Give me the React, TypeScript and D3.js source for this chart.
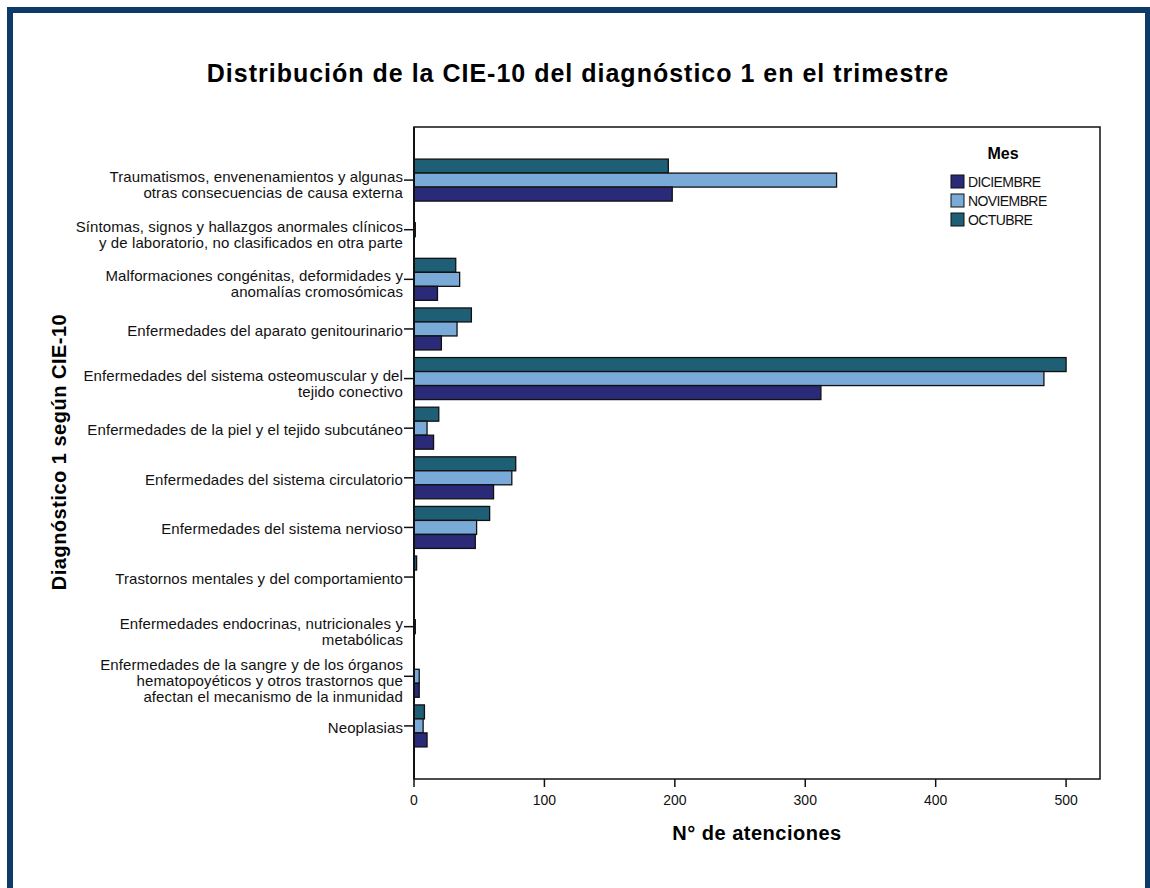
import React from 'react';
import * as d3 from 'd3';

// categories, top to bottom (lines split as in the original labels)
const categories: string[][] = [
  ['Traumatismos, envenenamientos y algunas', 'otras consecuencias de causa externa'],
  ['Síntomas, signos y hallazgos anormales clínicos', 'y de laboratorio, no clasificados en otra parte'],
  ['Malformaciones congénitas, deformidades y', 'anomalías cromosómicas'],
  ['Enfermedades del aparato genitourinario'],
  ['Enfermedades del sistema osteomuscular y del', 'tejido conectivo'],
  ['Enfermedades de la piel y el tejido subcutáneo'],
  ['Enfermedades del sistema circulatorio'],
  ['Enfermedades del sistema nervioso'],
  ['Trastornos mentales y del comportamiento'],
  ['Enfermedades endocrinas, nutricionales y', 'metabólicas'],
  ['Enfermedades de la sangre y de los órganos', 'hematopoyéticos y otros trastornos que', 'afectan el mecanismo de la inmunidad'],
  ['Neoplasias'],
];

const octubre = [195, 0, 32, 44, 500, 19, 78, 58, 2, 0, 0, 8];
const noviembre = [324, 1, 35, 33, 483, 10, 75, 48, 0, 1, 4, 7];
const diciembre = [198, 0, 18, 21, 312, 15, 61, 47, 0, 0, 4, 10];

// drawn top to bottom inside each group
const months = ['OCTUBRE', 'NOVIEMBRE', 'DICIEMBRE'];
const monthValues = [octubre, noviembre, diciembre];
const monthColors = ['#1e5f75', '#7aaad8', '#2a2a78'];

// legend order
const legendOrder = ['DICIEMBRE', 'NOVIEMBRE', 'OCTUBRE'];

const xTicks = [0, 100, 200, 300, 400, 500];

const FONT = 'Liberation Sans, Arial, sans-serif';

export default function App() {
  const plot = { left: 414, right: 1100, top: 127, bottom: 779 };

  const x = d3.scaleLinear().domain([0, 526]).range([plot.left, plot.right]);
  const y = d3.scaleBand<number>()
    .domain(d3.range(categories.length))
    .range([plot.top, plot.bottom])
    .paddingOuter(0.57)
    .paddingInner(0);
  const inner = d3.scaleBand<string>().domain(months).range([-21, 21]);

  const color = d3.scaleOrdinal<string, string>().domain(months).range(monthColors);

  return (
    <svg width={1150} height={888} style={{ position: 'absolute', left: 0, top: 0, background: '#fff' }}>
      {/* outer frame */}
      <rect x={10} y={10} width={1138} height={900} fill="none" stroke="#0c3a69" strokeWidth={6} />

      {/* title */}
      <text x={578} y={82} textAnchor="middle" fontFamily={FONT} fontWeight="bold" fontSize={25} letterSpacing={1}>
        Distribución de la CIE-10 del diagnóstico 1 en el trimestre
      </text>

      {/* plot frame */}
      <rect x={plot.left} y={plot.top} width={plot.right - plot.left} height={plot.bottom - plot.top}
        fill="none" stroke="#111" strokeWidth={1.5} />

      {/* bars */}
      {categories.map((_, i) => {
        const cy = (y(i) as number) + y.bandwidth() / 2;
        return (
          <g key={i}>
            {months.map((m, j) => {
              const v = monthValues[j][i];
              if (!v) return null;
              return (
                <rect key={m} x={x(0)} y={cy + (inner(m) as number)}
                  width={x(v) - x(0)} height={inner.bandwidth()}
                  fill={color(m)} stroke="#111" strokeWidth={1.3} />
              );
            })}
          </g>
        );
      })}

      {/* left axis line */}
      <line x1={plot.left} x2={plot.left} y1={plot.top} y2={plot.bottom} stroke="#111" strokeWidth={2} />

      {/* category labels and ticks */}
      {categories.map((lines, i) => {
        const cy = (y(i) as number) + y.bandwidth() / 2;
        const n = lines.length;
        const first = cy - (n - 1) * 8 + 7 + (n > 1 ? 3 : 0);
        return (
          <g key={i}>
            <line x1={plot.left - 10} x2={plot.left} y1={cy} y2={cy} stroke="#111" strokeWidth={1.5} />
            <text textAnchor="end" fontFamily={FONT} fontSize={15} letterSpacing={0.1} fill="#111">
              {lines.map((l, k) => (
                <tspan key={k} x={plot.left - 11} y={first + k * 16}>{l}</tspan>
              ))}
            </text>
          </g>
        );
      })}

      {/* x axis ticks */}
      {xTicks.map(t => (
        <g key={t}>
          <line x1={x(t)} x2={x(t)} y1={plot.bottom} y2={plot.bottom + 8} stroke="#111" strokeWidth={1.5} />
          <text x={x(t)} y={plot.bottom + 26} textAnchor="middle" fontFamily={FONT} fontSize={14} fill="#111">{t}</text>
        </g>
      ))}

      {/* axis titles */}
      <text x={757} y={840} textAnchor="middle" fontFamily={FONT} fontWeight="bold" fontSize={20} letterSpacing={0.5}>
        N° de atenciones
      </text>
      <text transform="translate(66,452) rotate(-90)" textAnchor="middle" fontFamily={FONT} fontWeight="bold" fontSize={20} letterSpacing={0.5}>
        Diagnóstico 1 según CIE-10
      </text>

      {/* legend */}
      <text x={1003} y={159} textAnchor="middle" fontFamily={FONT} fontWeight="bold" fontSize={16}>Mes</text>
      {legendOrder.map((m, k) => (
        <g key={m} transform={`translate(951, ${175 + k * 19})`}>
          <rect x={0} y={0} width={13} height={13} fill={color(m)} stroke="#111" strokeWidth={1} />
          <text x={17} y={12} fontFamily={FONT} fontSize={14} letterSpacing={-0.6} fill="#111">{m}</text>
        </g>
      ))}
    </svg>
  );
}
